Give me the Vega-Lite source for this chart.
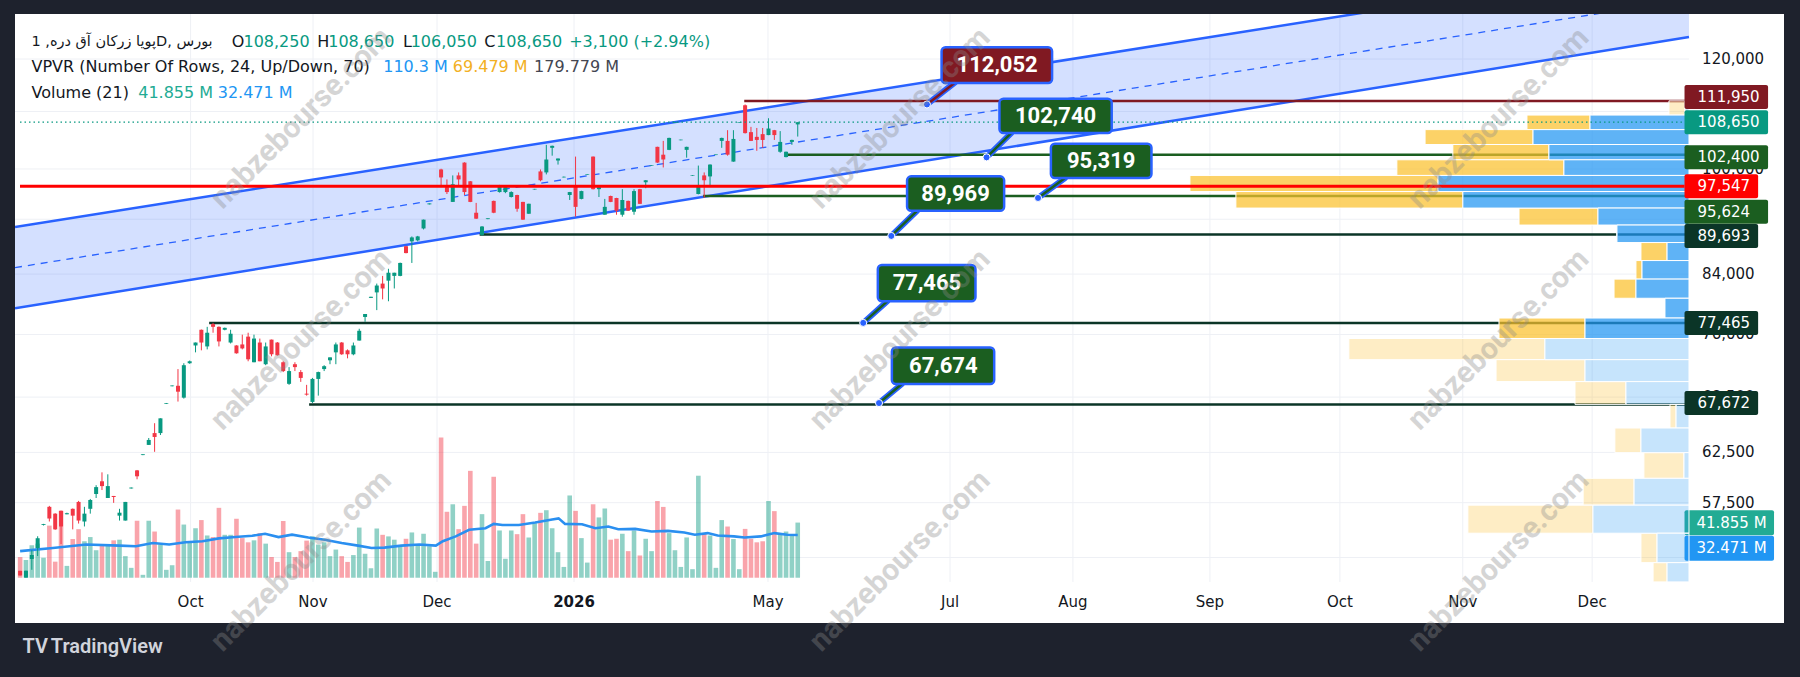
{
"$schema":"https://vega.github.io/schema/vega-lite/v6.json",
"width":1769,"height":609,
"autosize":{"type":"none"},
"padding":{"left":15,"top":14,"right":16,"bottom":54},
"background":"#1e222d",
"config":{"view":{"fill":"#ffffff","stroke":null},"font":"Roboto","legend":{"disable":true}},
"datasets":{
"ygrid":[{"p":52500},{"p":57500},{"p":62500},{"p":68500},{"p":76000},{"p":84000},{"p":92000},{"p":100000},{"p":110000},{"p":120000}],
"months":[{"i":28.84,"m":"Oct"},{"i":49.66,"m":"Nov"},{"i":70.75,"m":"Dec"},{"i":94.05,"m":"2026"},{"i":127.04,"m":"May"},{"i":158.0,"m":"Jul"},{"i":178.9,"m":"Aug"},{"i":202.2,"m":"Sep"},{"i":224.3,"m":"Oct"},{"i":245.2,"m":"Nov"},{"i":267.2,"m":"Dec"}],
"channel":[{"i":-1.02,"up":90830,"lo":79370,"mid":84910},{"i":283.67,"up":141200,"lo":124440,"mid":132550}],
"levels":[{"p":111950,"bp":113360,"s":123,"kind":"res","label":"111,950"},{"p":108650,"bp":108650,"s":-1.02,"kind":"last","label":"108,650"},{"p":102400,"bp":102400,"s":130,"kind":"sup1","label":"102,400"},{"p":97547,"bp":97547,"s":-1.02,"kind":"pivot","label":"97,547"},{"p":95624,"bp":93410,"s":116,"kind":"sup1","label":"95,624"},{"p":89693,"bp":89693,"s":78,"kind":"sup2","label":"89,693"},{"p":77465,"bp":77465,"s":32,"kind":"sup2","label":"77,465"},{"p":67672,"bp":67672,"s":49,"kind":"sup2","label":"67,672"}],
"callouts":[
{"t":"112,052","k":"res","x0":156.6,"x1":175.5,"top":123290,"bot":116080,"tx":166.1,"tp":119600,"di":154.1,"dp":111950,"ai":158.8,"ap":116080},
{"t":"102,740","k":"sup","x0":166.5,"x1":185.7,"top":113050,"bot":106670,"tx":176.1,"tp":109810,"di":164.3,"dp":102400,"ai":168.5,"ap":106670},
{"t":"95,319","k":"sup","x0":175.3,"x1":192.5,"top":104790,"bot":98890,"tx":183.9,"tp":101800,"di":173.1,"dp":95624,"ai":177.7,"ap":98890},
{"t":"89,969","k":"sup","x0":150.7,"x1":167.3,"top":99170,"bot":93570,"tx":159.0,"tp":96330,"di":148.0,"dp":89693,"ai":152.4,"ap":93570},
{"t":"77,465","k":"sup","x0":145.7,"x1":162.4,"top":85410,"bot":80330,"tx":154.1,"tp":82830,"di":143.2,"dp":77465,"ai":147.3,"ap":80330},
{"t":"67,674","k":"sup","x0":148.1,"x1":165.6,"top":74310,"bot":69880,"tx":156.9,"tp":72060,"di":145.9,"dp":67672,"ai":149.8,"ap":69880}],
"vbadges":[{"t":"41.855 M","v":41.855,"k":"vol"},{"t":"32.471 M","v":22.4,"k":"ma"}],
"hdrfa":[{"i":0.94,"p":124310,"t":"پویا زرکان آق دره, 1D, بورس"}],
"hdr":[
{"i":35.2,"p":124310,"t":"O","k":"dark"},{"i":37.2,"p":124310,"t":"108,250","k":"teal"},
{"i":49.8,"p":124310,"t":"H","k":"dark"},{"i":51.7,"p":124310,"t":"108,650","k":"teal"},
{"i":64.5,"p":124310,"t":"L","k":"dark"},{"i":65.8,"p":124310,"t":"106,050","k":"teal"},
{"i":78.4,"p":124310,"t":"C","k":"dark"},{"i":80.4,"p":124310,"t":"108,650","k":"teal"},
{"i":92.9,"p":124310,"t":"+3,100 (+2.94%)","k":"teal"},
{"i":0.94,"p":119150,"t":"VPVR (Number Of Rows, 24, Up/Down, 70)","k":"dark"},
{"i":61.1,"p":119150,"t":"110.3 M","k":"blue"},{"i":73.0,"p":119150,"t":"69.479 M","k":"yellow"},{"i":86.9,"p":119150,"t":"179.779 M","k":"gray"},
{"i":0.94,"p":114120,"t":"Volume (21)","k":"dark"},{"i":19.2,"p":114120,"t":"41.855 M","k":"vteal"},{"i":32.8,"p":114120,"t":"32.471 M","k":"blue"}],
"wm":[{"i":47.1,"p":109360},{"i":47.1,"p":75300},{"i":47.1,"p":51850},{"i":149.5,"p":109360},{"i":149.5,"p":75300},{"i":149.5,"p":51850},{"i":251.9,"p":109360},{"i":251.9,"p":75300},{"i":251.9,"p":51850}],
"logo":[{"i":-0.6,"p":44880,"t":"TV"},{"i":4.25,"p":44880,"t":"TradingView"}],
"vp":[
{"hi":111950,"lo":109346,"up":0.19,"tot":0.96,"va":false},
{"hi":109346,"lo":106742,"up":4.74,"tot":7.76,"va":true},
{"hi":106742,"lo":104138,"up":7.47,"tot":12.64,"va":true},
{"hi":104138,"lo":101534,"up":6.71,"tot":11.31,"va":true},
{"hi":101534,"lo":98930,"up":5.99,"tot":13.99,"va":true},
{"hi":98930,"lo":96326,"up":12.02,"tot":23.90,"va":true},
{"hi":96326,"lo":93722,"up":10.83,"tot":21.70,"va":true},
{"hi":93722,"lo":91118,"up":4.36,"tot":8.14,"va":true},
{"hi":91118,"lo":88514,"up":3.45,"tot":3.45,"va":true},
{"hi":88514,"lo":85910,"up":1.05,"tot":2.30,"va":true},
{"hi":85910,"lo":83306,"up":2.25,"tot":2.54,"va":true},
{"hi":83306,"lo":80702,"up":2.54,"tot":3.59,"va":true},
{"hi":80702,"lo":78098,"up":1.15,"tot":1.15,"va":true},
{"hi":78098,"lo":75494,"up":4.98,"tot":9.10,"va":true},
{"hi":75494,"lo":72890,"up":6.90,"tot":16.29,"va":false},
{"hi":72890,"lo":70286,"up":4.98,"tot":9.24,"va":false},
{"hi":70286,"lo":67682,"up":3.02,"tot":5.46,"va":false},
{"hi":67682,"lo":65078,"up":0.62,"tot":0.91,"va":false},
{"hi":65078,"lo":62474,"up":2.30,"tot":3.55,"va":false},
{"hi":62474,"lo":59870,"up":0.24,"tot":2.16,"va":false},
{"hi":59870,"lo":57266,"up":2.63,"tot":5.07,"va":false},
{"hi":57266,"lo":54662,"up":4.60,"tot":10.59,"va":false},
{"hi":54662,"lo":52058,"up":1.53,"tot":2.30,"va":false},
{"hi":52058,"lo":50420,"up":1.05,"tot":1.72,"va":false}],
"ma":[{"i":-1,"v":20.2},{"i":4.6,"v":22.6},{"i":10.3,"v":25.2},{"i":16,"v":24.4},{"i":18.8,"v":23.9},{"i":21.7,"v":26.4},{"i":24.5,"v":25.2},{"i":27.3,"v":26.9},{"i":30.2,"v":27.7},{"i":33,"v":29.9},{"i":35.8,"v":30.9},{"i":38.7,"v":31.9},{"i":40.9,"v":33.4},{"i":43.2,"v":30.9},{"i":45.5,"v":32.7},{"i":48.3,"v":30.6},{"i":51.1,"v":28.9},{"i":54,"v":26.4},{"i":56.8,"v":24.4},{"i":59.1,"v":22.6},{"i":61.3,"v":22.9},{"i":64.2,"v":24.4},{"i":67.3,"v":25.2},{"i":70.1,"v":24.4},{"i":71.3,"v":27.7},{"i":73.5,"v":31.4},{"i":75.8,"v":36.4},{"i":78.6,"v":37.6},{"i":80,"v":40.9},{"i":81.5,"v":40.1},{"i":84.3,"v":40.1},{"i":87.1,"v":41.9},{"i":90,"v":44.3},{"i":91.1,"v":45.1},{"i":92.2,"v":40.9},{"i":95.1,"v":40.6},{"i":97.4,"v":37.6},{"i":99.6,"v":38.9},{"i":101.3,"v":36.8},{"i":104.2,"v":37.1},{"i":107,"v":35.1},{"i":109.8,"v":35.6},{"i":112.6,"v":34.4},{"i":114.4,"v":32.7},{"i":116.6,"v":33.9},{"i":118.3,"v":32.1},{"i":121.1,"v":31.4},{"i":122.9,"v":30.6},{"i":125.7,"v":31.4},{"i":128,"v":33.9},{"i":130.2,"v":32.7},{"i":132,"v":32.5}],
"candles":[
{"i":-1,"o":51000,"h":51000,"l":50600,"c":50600,"v":15.7},
{"i":0,"o":50420,"h":51010,"l":50420,"c":51010,"v":13.5},
{"i":1,"o":52030,"h":52810,"l":51090,"c":52380,"v":24.7},
{"i":2,"o":52990,"h":54060,"l":52290,"c":53880,"v":25.9},
{"i":3,"o":55100,"h":55200,"l":55050,"c":55180,"v":15.2},
{"i":4,"o":56810,"h":56900,"l":55420,"c":55700,"v":39.6},
{"i":5,"o":56160,"h":56200,"l":54650,"c":54690,"v":12.2},
{"i":6,"o":56430,"h":56450,"l":53350,"c":54960,"v":50.8},
{"i":7,"o":56100,"h":56250,"l":56100,"c":56200,"v":9.0},
{"i":8,"o":56620,"h":56650,"l":54690,"c":55970,"v":29.4},
{"i":9,"o":57280,"h":57380,"l":55230,"c":55510,"v":36.9},
{"i":10,"o":55420,"h":56810,"l":54960,"c":56160,"v":27.7},
{"i":11,"o":56620,"h":57570,"l":56160,"c":57470,"v":30.9},
{"i":12,"o":58050,"h":58920,"l":57660,"c":58730,"v":20.9},
{"i":13,"o":59310,"h":60210,"l":58440,"c":58830,"v":25.2},
{"i":14,"o":57660,"h":60010,"l":57660,"c":58830,"v":25.2},
{"i":15,"o":57860,"h":57860,"l":57190,"c":57760,"v":28.4},
{"i":16,"o":55970,"h":56620,"l":55510,"c":56250,"v":28.9},
{"i":17,"o":55510,"h":57280,"l":55510,"c":57280,"v":16.4},
{"i":18,"o":58600,"h":58700,"l":58580,"c":58680,"v":7.5},
{"i":19,"o":60410,"h":60450,"l":59510,"c":59810,"v":43.3},
{"i":20,"o":61990,"h":62080,"l":61980,"c":62070,"v":2.2},
{"i":21,"o":63060,"h":63800,"l":63060,"c":63590,"v":43.3},
{"i":22,"o":64330,"h":65410,"l":62330,"c":63910,"v":35.1},
{"i":23,"o":64330,"h":65950,"l":64120,"c":65950,"v":25.2},
{"i":24,"o":67580,"h":67680,"l":67560,"c":67660,"v":6.0},
{"i":25,"o":69620,"h":69720,"l":69600,"c":69700,"v":9.5},
{"i":26,"o":69670,"h":71660,"l":67840,"c":68980,"v":51.8},
{"i":27,"o":68290,"h":72370,"l":68180,"c":72130,"v":40.4},
{"i":28,"o":72370,"h":72700,"l":72300,"c":72610,"v":26.4},
{"i":29,"o":74570,"h":74940,"l":73710,"c":74940,"v":37.6},
{"i":30,"o":76570,"h":76600,"l":73960,"c":74940,"v":43.8},
{"i":31,"o":74450,"h":76950,"l":74080,"c":76190,"v":32.1},
{"i":32,"o":77300,"h":77465,"l":76190,"c":76950,"v":30.9},
{"i":33,"o":76950,"h":77000,"l":74450,"c":75080,"v":53.1},
{"i":34,"o":76570,"h":76850,"l":76500,"c":76820,"v":32.6},
{"i":35,"o":74940,"h":76570,"l":74820,"c":76060,"v":32.6},
{"i":36,"o":74570,"h":74600,"l":73550,"c":73590,"v":44.8},
{"i":37,"o":74700,"h":75940,"l":74080,"c":74200,"v":30.1},
{"i":38,"o":75690,"h":76190,"l":72610,"c":72850,"v":26.9},
{"i":39,"o":72490,"h":75940,"l":72490,"c":75440,"v":28.4},
{"i":40,"o":74940,"h":75440,"l":72610,"c":72610,"v":33.9},
{"i":41,"o":72250,"h":74940,"l":72130,"c":74450,"v":25.9},
{"i":42,"o":75310,"h":75310,"l":73220,"c":73470,"v":15.7},
{"i":43,"o":74940,"h":75000,"l":73300,"c":73350,"v":12.0},
{"i":44,"o":72490,"h":72610,"l":71300,"c":71420,"v":43.1},
{"i":45,"o":69900,"h":71900,"l":69780,"c":71420,"v":19.4},
{"i":46,"o":72250,"h":72490,"l":71420,"c":71900,"v":15.7},
{"i":47,"o":71300,"h":71540,"l":70130,"c":70600,"v":20.2},
{"i":48,"o":68750,"h":69780,"l":68520,"c":68640,"v":28.2},
{"i":49,"o":67800,"h":70600,"l":67672,"c":70480,"v":31.4},
{"i":50,"o":70480,"h":71350,"l":68520,"c":71300,"v":25.2},
{"i":51,"o":71660,"h":72130,"l":71420,"c":72010,"v":26.9},
{"i":52,"o":72730,"h":73090,"l":72250,"c":73090,"v":16.4},
{"i":53,"o":73710,"h":74940,"l":72250,"c":74700,"v":21.4},
{"i":54,"o":74940,"h":75000,"l":73400,"c":73470,"v":16.4},
{"i":55,"o":73960,"h":74080,"l":72970,"c":73470,"v":12.0},
{"i":56,"o":73470,"h":74940,"l":73350,"c":74570,"v":17.2},
{"i":57,"o":75190,"h":76700,"l":75190,"c":76440,"v":38.1},
{"i":58,"o":78240,"h":78630,"l":77600,"c":78630,"v":18.2},
{"i":59,"o":80800,"h":80950,"l":80780,"c":80950,"v":7.2},
{"i":60,"o":81550,"h":82770,"l":79150,"c":82500,"v":37.4},
{"i":61,"o":82770,"h":83850,"l":80600,"c":82090,"v":32.6},
{"i":62,"o":83180,"h":84860,"l":80340,"c":84300,"v":31.4},
{"i":63,"o":83850,"h":84300,"l":82090,"c":84300,"v":28.9},
{"i":64,"o":83850,"h":85750,"l":83800,"c":85700,"v":24.4},
{"i":65,"o":88150,"h":88200,"l":87100,"c":87140,"v":29.6},
{"i":66,"o":88880,"h":89620,"l":85700,"c":89470,"v":34.4},
{"i":67,"o":89030,"h":89700,"l":88880,"c":89620,"v":25.2},
{"i":68,"o":90830,"h":92200,"l":90680,"c":92190,"v":33.4},
{"i":69,"o":94600,"h":94750,"l":94580,"c":94750,"v":23.9},
{"i":70,"o":97470,"h":97600,"l":97450,"c":97600,"v":4.5},
{"i":71,"o":100330,"h":100450,"l":97380,"c":98990,"v":106.6},
{"i":72,"o":97380,"h":98660,"l":96260,"c":96580,"v":50.1},
{"i":73,"o":94990,"h":99330,"l":94990,"c":97860,"v":55.8},
{"i":74,"o":99330,"h":99830,"l":97700,"c":98660,"v":36.9},
{"i":75,"o":101500,"h":101550,"l":96100,"c":96580,"v":54.6},
{"i":76,"o":98350,"h":98400,"l":94950,"c":94990,"v":81.2},
{"i":77,"o":93270,"h":94830,"l":92300,"c":92340,"v":25.9},
{"i":78,"o":89850,"h":91200,"l":89693,"c":91130,"v":48.3},
{"i":79,"o":92280,"h":92400,"l":92260,"c":92400,"v":12.7},
{"i":80,"o":95150,"h":95200,"l":93200,"c":93270,"v":76.7},
{"i":81,"o":96580,"h":97750,"l":96500,"c":97700,"v":35.9},
{"i":82,"o":96580,"h":97700,"l":96400,"c":97540,"v":14.4},
{"i":83,"o":95780,"h":96700,"l":95700,"c":96580,"v":35.9},
{"i":84,"o":96100,"h":96150,"l":93430,"c":93900,"v":33.1},
{"i":85,"o":94990,"h":95000,"l":92150,"c":92190,"v":48.3},
{"i":86,"o":93120,"h":94700,"l":93100,"c":94680,"v":30.6},
{"i":87,"o":97000,"h":97100,"l":96980,"c":97100,"v":41.4},
{"i":88,"o":100000,"h":100330,"l":98350,"c":98520,"v":49.3},
{"i":89,"o":99830,"h":104580,"l":99500,"c":102030,"v":51.3},
{"i":90,"o":104060,"h":104450,"l":102690,"c":104410,"v":37.6},
{"i":91,"o":101860,"h":102200,"l":101160,"c":102200,"v":19.4},
{"i":92,"o":99000,"h":99150,"l":98980,"c":99100,"v":8.2},
{"i":93,"o":96100,"h":96600,"l":95300,"c":96580,"v":62.5},
{"i":94,"o":97700,"h":102530,"l":92650,"c":94200,"v":50.8},
{"i":95,"o":95470,"h":96800,"l":95400,"c":96740,"v":30.1},
{"i":96,"o":99450,"h":99550,"l":99430,"c":99550,"v":11.5},
{"i":97,"o":102530,"h":102550,"l":97000,"c":97050,"v":55.8},
{"i":98,"o":97050,"h":97400,"l":95780,"c":97380,"v":45.8},
{"i":99,"o":92960,"h":95470,"l":92960,"c":94200,"v":52.6},
{"i":100,"o":95940,"h":96000,"l":94950,"c":94990,"v":28.9},
{"i":101,"o":95620,"h":95650,"l":92960,"c":93590,"v":29.6},
{"i":102,"o":92960,"h":97050,"l":92650,"c":95300,"v":33.4},
{"i":103,"o":95150,"h":95200,"l":93550,"c":93590,"v":20.2},
{"i":104,"o":93430,"h":97050,"l":92960,"c":96740,"v":35.9},
{"i":105,"o":97050,"h":97100,"l":94650,"c":94680,"v":16.9},
{"i":106,"o":98190,"h":98550,"l":97210,"c":98520,"v":29.6},
{"i":107,"o":100950,"h":101050,"l":100930,"c":101050,"v":20.2},
{"i":108,"o":104230,"h":104250,"l":101450,"c":101500,"v":58.3},
{"i":109,"o":102860,"h":105280,"l":100670,"c":102030,"v":53.8},
{"i":110,"o":103700,"h":105850,"l":103650,"c":105810,"v":33.9},
{"i":111,"o":108560,"h":108700,"l":108540,"c":108700,"v":20.9},
{"i":112,"o":105400,"h":105500,"l":105380,"c":105500,"v":8.2},
{"i":113,"o":103700,"h":104250,"l":102350,"c":104230,"v":30.6},
{"i":114,"o":99250,"h":99350,"l":99230,"c":99350,"v":6.5},
{"i":115,"o":96260,"h":100990,"l":96200,"c":97700,"v":77.5},
{"i":116,"o":99330,"h":99830,"l":95624,"c":98520,"v":33.4},
{"i":117,"o":99160,"h":101200,"l":97700,"c":101160,"v":32.1},
{"i":118,"o":102800,"h":102900,"l":102780,"c":102900,"v":7.5},
{"i":119,"o":105280,"h":105850,"l":104060,"c":105810,"v":43.8},
{"i":120,"o":105280,"h":107200,"l":102690,"c":102860,"v":38.9},
{"i":121,"o":101670,"h":107200,"l":101650,"c":105630,"v":29.4},
{"i":122,"o":108550,"h":108650,"l":108530,"c":108650,"v":6.5},
{"i":123,"o":111800,"h":111950,"l":106600,"c":106670,"v":37.1},
{"i":124,"o":106850,"h":107800,"l":105250,"c":105280,"v":29.6},
{"i":125,"o":106000,"h":107600,"l":103540,"c":105450,"v":26.9},
{"i":126,"o":106490,"h":107600,"l":104060,"c":105450,"v":27.7},
{"i":127,"o":106320,"h":109380,"l":106300,"c":107500,"v":58.3},
{"i":128,"o":107200,"h":107250,"l":105450,"c":106320,"v":50.6},
{"i":129,"o":103370,"h":107030,"l":103200,"c":105100,"v":33.1},
{"i":130,"o":102450,"h":103400,"l":102400,"c":103370,"v":35.1},
{"i":131,"o":105100,"h":105500,"l":104580,"c":105450,"v":32.6},
{"i":132,"o":108250,"h":108650,"l":106050,"c":108650,"v":41.9}]
},
"resolve":{"scale":{"x":"independent","y":"independent","color":"independent"}},
"layer":[
{"layer":[
 {"data":{"name":"ygrid"},"mark":{"type":"rule","color":"#eef0f5","strokeWidth":1},
  "encoding":{"y":{"field":"p","type":"quantitative","scale":{"type":"log","domain":[47100,129300],"nice":false},"axis":null},
   "x":{"datum":-1.02,"type":"quantitative","scale":{"domain":[-1.0204,299.83],"nice":false,"zero":false},"axis":null},"x2":{"datum":283.67}}},
 {"data":{"name":"ygrid"},"transform":[{"filter":"datum.p != 52500 && datum.p != 92000 && datum.p != 110000"}],"mark":{"type":"text","align":"left","baseline":"middle","fontSize":15,"font":"DejaVu Sans","color":"#131722"},
  "encoding":{"x":{"datum":285.9,"type":"quantitative","scale":{"domain":[-1.0204,299.83],"nice":false,"zero":false},"axis":null},
   "y":{"field":"p","type":"quantitative","scale":{"type":"log","domain":[47100,129300],"nice":false},"axis":null},
   "text":{"field":"p","type":"quantitative","format":","}}},
 {"data":{"name":"months"},"mark":{"type":"rule","color":"#eef0f5","strokeWidth":1},
  "encoding":{"x":{"field":"i","type":"quantitative","scale":{"domain":[-1.0204,299.83],"nice":false,"zero":false},"axis":null},
   "y":{"datum":129300,"type":"quantitative","scale":{"type":"log","domain":[47100,129300],"nice":false},"axis":null},"y2":{"datum":50420}}},
 {"data":{"name":"channel"},"mark":{"type":"area","color":"#2962ff","opacity":0.2,"clip":true,"orient":"vertical"},
  "encoding":{"x":{"field":"i","type":"quantitative","scale":{"domain":[-1.0204,299.83],"nice":false,"zero":false},"axis":null},
   "y":{"field":"up","type":"quantitative","scale":{"type":"log","domain":[47100,129300],"nice":false},"axis":null},"y2":{"field":"lo"}}},
 {"data":{"name":"channel"},"mark":{"type":"line","color":"#2962ff","strokeWidth":2.5,"clip":true},
  "encoding":{"x":{"field":"i","type":"quantitative","scale":{"domain":[-1.0204,299.83],"nice":false,"zero":false},"axis":null},
   "y":{"field":"up","type":"quantitative","scale":{"type":"log","domain":[47100,129300],"nice":false},"axis":null}}},
 {"data":{"name":"channel"},"mark":{"type":"line","color":"#2962ff","strokeWidth":2.5,"clip":true},
  "encoding":{"x":{"field":"i","type":"quantitative","scale":{"domain":[-1.0204,299.83],"nice":false,"zero":false},"axis":null},
   "y":{"field":"lo","type":"quantitative","scale":{"type":"log","domain":[47100,129300],"nice":false},"axis":null}}},
 {"data":{"name":"channel"},"mark":{"type":"line","color":"#2962ff","strokeWidth":1.3,"strokeDash":[7,6],"clip":true},
  "encoding":{"x":{"field":"i","type":"quantitative","scale":{"domain":[-1.0204,299.83],"nice":false,"zero":false},"axis":null},
   "y":{"field":"mid","type":"quantitative","scale":{"type":"log","domain":[47100,129300],"nice":false},"axis":null}}},
 {"data":{"name":"levels"},"transform":[{"filter":"datum.kind=='res' || datum.kind=='sup1' || datum.kind=='sup2'"}],
  "mark":{"type":"rule","strokeWidth":2.5},
  "encoding":{"x":{"field":"s","type":"quantitative","scale":{"domain":[-1.0204,299.83],"nice":false,"zero":false},"axis":null},"x2":{"datum":283.67},
   "y":{"field":"p","type":"quantitative","scale":{"type":"log","domain":[47100,129300],"nice":false},"axis":null},
   "color":{"field":"kind","type":"nominal","scale":{"domain":["res","last","sup1","pivot","sup2"],"range":["#801922","#089981","#1b5e20","#ff0000","#0b3527"]},"legend":null}}},
 {"data":{"name":"months"},"transform":[{"filter":"datum.m != '2026'"}],"mark":{"type":"text","align":"center","baseline":"middle","fontSize":15,"font":"DejaVu Sans","color":"#131722"},
  "encoding":{"x":{"field":"i","type":"quantitative","scale":{"domain":[-1.0204,299.83],"nice":false,"zero":false},"axis":null},
   "y":{"datum":48760,"type":"quantitative","scale":{"type":"log","domain":[47100,129300],"nice":false},"axis":null},"text":{"field":"m"}}},
 {"data":{"name":"months"},"transform":[{"filter":"datum.m == '2026'"}],"mark":{"type":"text","align":"center","baseline":"middle","fontSize":15,"fontWeight":"bold","font":"DejaVu Sans","color":"#131722"},
  "encoding":{"x":{"field":"i","type":"quantitative","scale":{"domain":[-1.0204,299.83],"nice":false,"zero":false},"axis":null},
   "y":{"datum":48760,"type":"quantitative","scale":{"type":"log","domain":[47100,129300],"nice":false},"axis":null},"text":{"field":"m"}}}
],"resolve":{"scale":{"color":"independent"}}},
{"layer":[
 {"data":{"name":"candles"},"mark":{"type":"bar","size":4.6,"orient":"vertical","opacity":0.45,"clip":true},
  "encoding":{"x":{"field":"i","type":"quantitative","scale":{"domain":[-1.0204,299.83],"nice":false,"zero":false},"axis":null},
   "y":{"field":"v","type":"quantitative","scale":{"domain":[-30.6,424.5],"nice":false,"zero":false},"axis":null},
   "color":{"condition":{"test":"datum.c >= datum.o","value":"#089981"},"value":"#f23645"}}},
 {"data":{"name":"ma"},"mark":{"type":"line","color":"#2a8ff0","strokeWidth":2.6,"clip":true},
  "encoding":{"x":{"field":"i","type":"quantitative","scale":{"domain":[-1.0204,299.83],"nice":false,"zero":false},"axis":null},
   "y":{"field":"v","type":"quantitative","scale":{"domain":[-30.6,424.5],"nice":false,"zero":false},"axis":null}}},
 {"data":{"name":"vbadges"},"mark":{"type":"bar","size":25,"orient":"horizontal","cornerRadius":2},
  "encoding":{"x":{"datum":283.67,"type":"quantitative","scale":{"domain":[-1.0204,299.83],"nice":false,"zero":false},"axis":null},"x2":{"datum":298.98},
   "y":{"field":"v","type":"quantitative","scale":{"domain":[-30.6,424.5],"nice":false,"zero":false},"axis":null},
   "color":{"field":"k","type":"nominal","scale":{"domain":["vol","ma"],"range":["#22ab94","#2196f3"]},"legend":null}}},
 {"data":{"name":"vbadges"},"mark":{"type":"text","align":"left","baseline":"middle","color":"#ffffff","fontSize":15,"font":"DejaVu Sans"},
  "encoding":{"x":{"datum":285.7,"type":"quantitative","scale":{"domain":[-1.0204,299.83],"nice":false,"zero":false},"axis":null},
   "y":{"field":"v","type":"quantitative","scale":{"domain":[-30.6,424.5],"nice":false,"zero":false},"axis":null},"text":{"field":"t"}}}
],"resolve":{"scale":{"color":"independent"}}},
{"layer":[
 {"data":{"name":"vp"},"mark":{"type":"rect","color":"#fbc02d","stroke":"#ffffff","strokeWidth":1},
  "encoding":{"x":{"field":"tot","type":"quantitative","scale":{"domain":[-4.55,80.17],"reverse":true,"nice":false,"zero":false},"axis":null},"x2":{"field":"up"},
   "y":{"field":"hi","type":"quantitative","scale":{"type":"log","domain":[47100,129300],"nice":false},"axis":null},"y2":{"field":"lo"},
   "fillOpacity":{"condition":{"test":"datum.va","value":0.72},"value":0.28}}},
 {"data":{"name":"vp"},"mark":{"type":"rect","color":"#2196f3","stroke":"#ffffff","strokeWidth":1},
  "encoding":{"x":{"field":"up","type":"quantitative","scale":{"domain":[-4.55,80.17],"reverse":true,"nice":false,"zero":false},"axis":null},"x2":{"datum":0},
   "y":{"field":"hi","type":"quantitative","scale":{"type":"log","domain":[47100,129300],"nice":false},"axis":null},"y2":{"field":"lo"},
   "fillOpacity":{"condition":{"test":"datum.va","value":0.72},"value":0.26}}}
]},
{"layer":[
 {"data":{"name":"candles"},"mark":{"type":"rule","strokeWidth":1,"clip":true},
  "encoding":{"x":{"field":"i","type":"quantitative","scale":{"domain":[-1.0204,299.83],"nice":false,"zero":false},"axis":null},
   "y":{"field":"l","type":"quantitative","scale":{"type":"log","domain":[47100,129300],"nice":false},"axis":null},
   "y2":{"field":"h"},
   "color":{"condition":{"test":"datum.c >= datum.o","value":"#089981"},"value":"#f23645"}}},
 {"data":{"name":"candles"},"mark":{"type":"bar","size":4,"orient":"vertical","clip":true},
  "encoding":{"x":{"field":"i","type":"quantitative","scale":{"domain":[-1.0204,299.83],"nice":false,"zero":false},"axis":null},
   "y":{"field":"o","type":"quantitative","scale":{"type":"log","domain":[47100,129300],"nice":false},"axis":null},"y2":{"field":"c"},
   "color":{"condition":{"test":"datum.c >= datum.o","value":"#089981"},"value":"#f23645"}}},
 {"data":{"name":"levels"},"transform":[{"filter":"datum.kind=='last'"}],
  "mark":{"type":"rule","strokeWidth":1.2,"strokeDash":[1.5,3],"color":"#089981"},
  "encoding":{"x":{"field":"s","type":"quantitative","scale":{"domain":[-1.0204,299.83],"nice":false,"zero":false},"axis":null},"x2":{"datum":283.67},
   "y":{"field":"p","type":"quantitative","scale":{"type":"log","domain":[47100,129300],"nice":false},"axis":null}}},
 {"data":{"name":"levels"},"transform":[{"filter":"datum.kind=='pivot'"}],
  "mark":{"type":"rule","strokeWidth":3,"color":"#ff0000"},
  "encoding":{"x":{"field":"s","type":"quantitative","scale":{"domain":[-1.0204,299.83],"nice":false,"zero":false},"axis":null},"x2":{"datum":283.67},
   "y":{"field":"p","type":"quantitative","scale":{"type":"log","domain":[47100,129300],"nice":false},"axis":null}}},
 {"data":{"name":"callouts"},"mark":{"type":"rule","strokeWidth":6,"color":"#2962ff","strokeCap":"round"},
  "encoding":{"x":{"field":"di","type":"quantitative","scale":{"domain":[-1.0204,299.83],"nice":false,"zero":false},"axis":null},"x2":{"field":"ai"},
   "y":{"field":"dp","type":"quantitative","scale":{"type":"log","domain":[47100,129300],"nice":false},"axis":null},"y2":{"field":"ap"}}},
 {"data":{"name":"callouts"},"mark":{"type":"rule","strokeWidth":2.5},
  "encoding":{"x":{"field":"di","type":"quantitative","scale":{"domain":[-1.0204,299.83],"nice":false,"zero":false},"axis":null},"x2":{"field":"ai"},
   "y":{"field":"dp","type":"quantitative","scale":{"type":"log","domain":[47100,129300],"nice":false},"axis":null},"y2":{"field":"ap"},
   "color":{"field":"k","type":"nominal","scale":{"domain":["res","sup"],"range":["#801922","#1b5e20"]},"legend":null}}},
 {"data":{"name":"callouts"},"mark":{"type":"rect","stroke":"#2962ff","strokeWidth":2.5,"cornerRadius":4},
  "encoding":{"x":{"field":"x0","type":"quantitative","scale":{"domain":[-1.0204,299.83],"nice":false,"zero":false},"axis":null},"x2":{"field":"x1"},
   "y":{"field":"top","type":"quantitative","scale":{"type":"log","domain":[47100,129300],"nice":false},"axis":null},"y2":{"field":"bot"},
   "color":{"field":"k","type":"nominal","scale":{"domain":["res","sup"],"range":["#801922","#1b5e20"]},"legend":null}}},
 {"data":{"name":"callouts"},"mark":{"type":"point","filled":true,"size":50,"color":"#2962ff","stroke":"#ffffff","strokeWidth":1,"opacity":1},
  "encoding":{"x":{"field":"di","type":"quantitative","scale":{"domain":[-1.0204,299.83],"nice":false,"zero":false},"axis":null},
   "y":{"field":"dp","type":"quantitative","scale":{"type":"log","domain":[47100,129300],"nice":false},"axis":null}}},
 {"data":{"name":"callouts"},"mark":{"type":"text","align":"center","baseline":"middle","color":"#ffffff","fontSize":22,"fontWeight":"bold","font":"Roboto"},
  "encoding":{"x":{"field":"tx","type":"quantitative","scale":{"domain":[-1.0204,299.83],"nice":false,"zero":false},"axis":null},
   "y":{"field":"tp","type":"quantitative","scale":{"type":"log","domain":[47100,129300],"nice":false},"axis":null},"text":{"field":"t"}}},
 {"data":{"name":"levels"},"transform":[{"filter":"datum.kind=='res' || datum.kind=='last' || datum.kind=='sup1'"}],
  "mark":{"type":"bar","size":24,"orient":"horizontal","cornerRadius":2},
  "encoding":{"x":{"datum":283.67,"type":"quantitative","scale":{"domain":[-1.0204,299.83],"nice":false,"zero":false},"axis":null},"x2":{"datum":297.96},
   "y":{"field":"bp","type":"quantitative","scale":{"type":"log","domain":[47100,129300],"nice":false},"axis":null},
   "color":{"field":"kind","type":"nominal","scale":{"domain":["res","last","sup1","pivot","sup2"],"range":["#801922","#089981","#1b5e20","#ff0000","#0b3527"]},"legend":null}}},
 {"data":{"name":"levels"},"transform":[{"filter":"datum.kind=='pivot' || datum.kind=='sup2'"}],
  "mark":{"type":"bar","size":24,"orient":"horizontal","cornerRadius":2},
  "encoding":{"x":{"datum":283.67,"type":"quantitative","scale":{"domain":[-1.0204,299.83],"nice":false,"zero":false},"axis":null},"x2":{"datum":296.26},
   "y":{"field":"bp","type":"quantitative","scale":{"type":"log","domain":[47100,129300],"nice":false},"axis":null},
   "color":{"field":"kind","type":"nominal","scale":{"domain":["res","last","sup1","pivot","sup2"],"range":["#801922","#089981","#1b5e20","#ff0000","#0b3527"]},"legend":null}}},
 {"data":{"name":"levels"},"mark":{"type":"text","align":"left","baseline":"middle","color":"#ffffff","fontSize":15,"font":"DejaVu Sans"},
  "encoding":{"x":{"datum":285.9,"type":"quantitative","scale":{"domain":[-1.0204,299.83],"nice":false,"zero":false},"axis":null},
   "y":{"field":"bp","type":"quantitative","scale":{"type":"log","domain":[47100,129300],"nice":false},"axis":null},"text":{"field":"label"}}},
 {"data":{"name":"hdrfa"},"mark":{"type":"text","align":"left","baseline":"middle","fontSize":14.5,"font":"DejaVu Sans","color":"#131722"},
  "encoding":{"x":{"field":"i","type":"quantitative","scale":{"domain":[-1.0204,299.83],"nice":false,"zero":false},"axis":null},
   "y":{"field":"p","type":"quantitative","scale":{"type":"log","domain":[47100,129300],"nice":false},"axis":null},"text":{"field":"t"}}},
 {"data":{"name":"hdr"},"mark":{"type":"text","align":"left","baseline":"middle","fontSize":16,"font":"DejaVu Sans"},
  "encoding":{"x":{"field":"i","type":"quantitative","scale":{"domain":[-1.0204,299.83],"nice":false,"zero":false},"axis":null},
   "y":{"field":"p","type":"quantitative","scale":{"type":"log","domain":[47100,129300],"nice":false},"axis":null},"text":{"field":"t"},
   "color":{"field":"k","type":"nominal","scale":{"domain":["dark","teal","blue","yellow","gray","vteal"],"range":["#131722","#089981","#2196f3","#f2b024","#434651","#22ab94"]},"legend":null}}},
 {"data":{"name":"logo"},"mark":{"type":"text","align":"left","baseline":"middle","fontSize":20,"fontWeight":600,"font":"Roboto","color":"#d1d4dc"},
  "encoding":{"x":{"field":"i","type":"quantitative","scale":{"domain":[-1.0204,299.83],"nice":false,"zero":false},"axis":null},
   "y":{"field":"p","type":"quantitative","scale":{"type":"log","domain":[47100,129300],"nice":false},"axis":null},"text":{"field":"t"}}},
 {"data":{"name":"wm"},"mark":{"type":"text","align":"center","baseline":"middle","fontSize":30,"fontWeight":"bold","font":"Roboto","angle":-45,"color":"#8a8a8a","opacity":0.35,"text":"nabzebourse.com"},
  "encoding":{"x":{"field":"i","type":"quantitative","scale":{"domain":[-1.0204,299.83],"nice":false,"zero":false},"axis":null},
   "y":{"field":"p","type":"quantitative","scale":{"type":"log","domain":[47100,129300],"nice":false},"axis":null}}}
],"resolve":{"scale":{"color":"independent"}}}
]
}
